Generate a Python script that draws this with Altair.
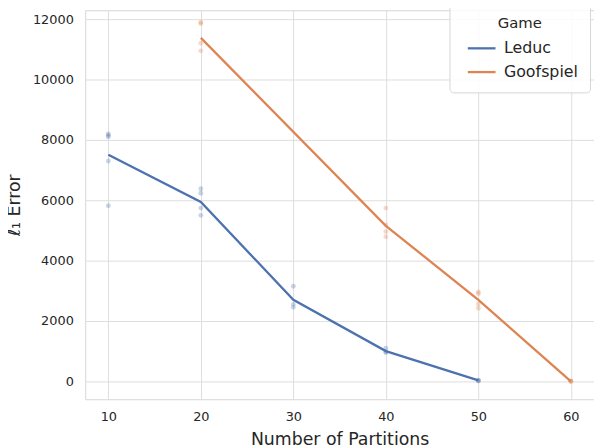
import altair as alt
import pandas as pd

# Raw run results (scatter points)
leduc_pts_x = [10, 10, 10, 10, 10, 20, 20, 20, 20, 30, 30, 30, 40, 40, 40, 50, 50, 50]
leduc_pts_y = [8200, 8150, 8100, 7300, 5820, 6380, 6230, 5740, 5500, 3150, 2550, 2450, 1100, 980, 950, 40, 20, 10]
goof_pts_x = [20, 20, 20, 20, 40, 40, 40, 40, 50, 50, 50, 50, 60, 60, 60]
goof_pts_y = [11900, 11850, 11200, 10950, 5740, 5180, 4960, 4790, 2960, 2900, 2560, 2420, 0, 0, 0]

# Mean lines
leduc_line_x = [10, 20, 30, 40, 50]
leduc_line_y = [7510, 5940, 2700, 1000, 30]
goof_line_x = [20, 40, 50, 60]
goof_line_y = [11380, 5150, 2700, 0]

games = ["Leduc", "Goofspiel"]
colors = ["#4c72b0", "#dd8452"]
x_ticks = [10, 20, 30, 40, 50, 60]
y_ticks = [0, 2000, 4000, 6000, 8000, 10000, 12000]

pts = pd.DataFrame({
    "x": leduc_pts_x + goof_pts_x,
    "y": leduc_pts_y + goof_pts_y,
    "Game": ["Leduc"] * len(leduc_pts_x) + ["Goofspiel"] * len(goof_pts_x),
})
lines = pd.DataFrame({
    "x": leduc_line_x + goof_line_x,
    "y": leduc_line_y + goof_line_y,
    "Game": ["Leduc"] * len(leduc_line_x) + ["Goofspiel"] * len(goof_line_x),
})

FONT = "DejaVu Sans"
TXT = "#262626"

xscale = alt.Scale(domain=[7.5, 62.5], nice=False, zero=False)
yscale = alt.Scale(domain=[-595, 12295], nice=False, zero=False)
cscale = alt.Scale(domain=games, range=colors)

xenc = alt.X("x:Q", scale=xscale, title="Number of Partitions",
             axis=alt.Axis(values=x_ticks, format="d", grid=True, domain=False, ticks=False,
                           labelPadding=11, titlePadding=8))
yenc = alt.Y("y:Q", scale=yscale, title="ℓ₁ Error",
             axis=alt.Axis(values=y_ticks, format="d", grid=True, domain=False, ticks=False,
                           labelPadding=12, titlePadding=9))

legend = alt.Legend(title="Game", orient="none", legendX=368, legendY=-6, symbolOpacity=1)

points = alt.Chart(pts).mark_circle(size=24, opacity=0.3).encode(
    x=xenc, y=yenc,
    color=alt.Color("Game:N", scale=cscale, sort=games, legend=legend),
)
line = alt.Chart(lines).mark_line(strokeWidth=2.3).encode(
    x=xenc, y=yenc,
    color=alt.Color("Game:N", scale=cscale, sort=games, legend=legend),
    detail="Game:N",
)

chart = (line + points).properties(
    width=514, height=393,
    autosize=alt.AutoSizeParams(type="none"),
    padding={"left": 78, "top": 0, "right": 0, "bottom": 47},
    background="white",
).configure(font=FONT).configure_view(
    stroke="#d6d6d6", strokeWidth=1
).configure_axis(
    labelFont=FONT, titleFont=FONT, labelFontSize=13, titleFontSize=17.5,
    labelColor=TXT, titleColor=TXT, titleFontWeight="normal",
    gridColor="#dedede", gridWidth=1,
).configure_legend(
    labelFont=FONT, titleFont=FONT, labelFontSize=16, titleFontSize=15,
    labelColor=TXT, titleColor=TXT, titleFontWeight="normal",
    fillColor="rgba(255,255,255,0.85)", strokeColor="#d6d6d6", cornerRadius=4,
    padding=12, symbolType="stroke", symbolStrokeWidth=2.3, symbolSize=784,
    symbolOffset=5, rowPadding=-3, labelOffset=7, titleAnchor="middle", titlePadding=2,
)

chart.save("out.html", embed_options={"renderer": "svg", "actions": False})
